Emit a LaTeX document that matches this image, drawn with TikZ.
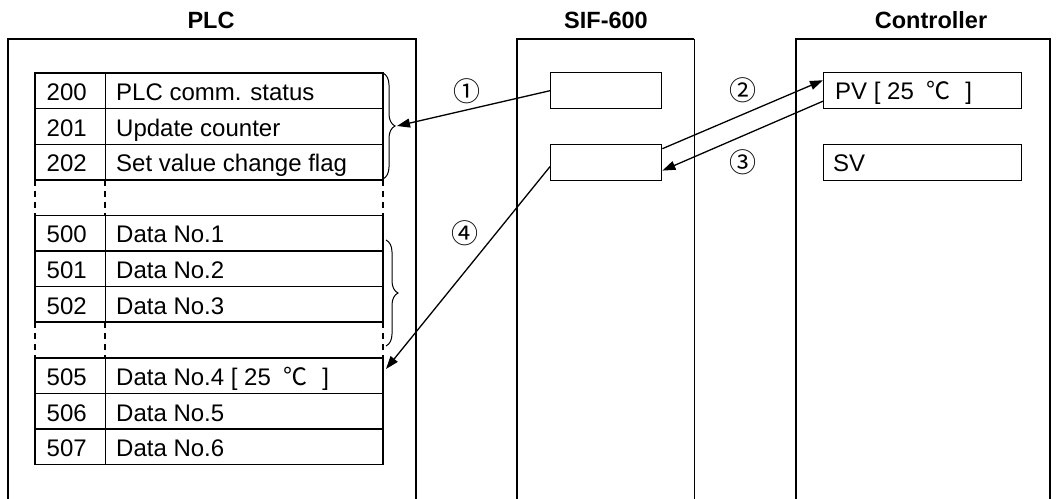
\documentclass[tikz,border=0pt]{standalone}
\usepackage{fontspec}
\setmainfont{Liberation Sans}
\newfontfamily\titlefont{Liberation Sans}
\newfontfamily\cjk{Noto Sans CJK JP}
\usetikzlibrary{arrows.meta,decorations.pathreplacing}
\newcommand\degC{\hspace{6pt}{\cjk ℃}\hspace{8pt}}
\tikzset{
  title/.style={font=\titlefont\bfseries\fontsize{23.5}{25}\selectfont, anchor=base, inner sep=0pt},
  txt/.style={font=\fontsize{24}{26}\selectfont, anchor=base west, inner sep=0pt},
  circ/.style={font=\cjk\fontsize{27}{28}\selectfont, inner sep=0pt},
  frame/.style={line width=1.6pt},
  cell/.style={line width=1.6pt},
  inner/.style={line width=1pt},
  gap/.style={line width=1.4pt, dash pattern=on 6pt off 5pt},
  regbox/.style={draw, line width=1.4pt, minimum width=111pt, minimum height=36pt, anchor=north west, inner sep=0pt},
  ctlbox/.style={draw, line width=1.4pt, minimum width=198pt, minimum height=36pt, anchor=north west, inner sep=0pt},
  arr/.style={line width=1.3pt, -{Triangle[length=13pt,width=9pt]}},
  brc/.style={line width=1pt, decorate, decoration={brace, amplitude=12pt}},
}
\begin{document}
\begin{tikzpicture}[x=1pt,y=-1pt]
\useasboundingbox (0,0) rectangle (1056,498);
% titles
\node[title] (tplc) at (211,28) {PLC};
\node[title] (tsif) at (606,28) {SIF-600};
\node[title] (tctl) at (931,28) {Controller};
% outer frames
\draw[frame] (8,505) -- (8,39) -- (416,39) -- (416,505);
\draw[frame] (517,505) -- (517,39) -- (694,39);
\draw[line width=1pt] (694,39) -- (694,505);
\draw[frame] (796,505) -- (796,39) -- (1050,39) -- (1050,505);
% table groups
\foreach \t in {73,215.4,357.8}{
  \draw[cell] (35,\t) rectangle (383,\t+106.8);
  \draw[inner] (105,\t) -- (105,\t+106.8);
  \draw[line width=1.3pt] (35,\t+35.6) -- (383,\t+35.6);
  \draw[line width=1.3pt] (35,\t+71.2) -- (383,\t+71.2);
}
% gap rows
\foreach \t in {179.8,322.2}{
  \draw[gap] (35,\t) -- (35,\t+35.6);
  \draw[gap] (105,\t) -- (105,\t+35.6);
  \draw[gap] (383,\t) -- (383,\t+35.6);
}
% table texts
\node[txt] (n200) at (46.5,100.5) {200};
\node[txt] (l200) at (116,100.5) {PLC comm. status};
\node[txt] (n201) at (46.5,136.1) {201};
\node[txt] (l201) at (116,136.1) {Update counter};
\node[txt] (n202) at (46.5,171.7) {202};
\node[txt] (l202) at (116,171.7) {Set value change flag};
\node[txt] (n500) at (46.5,242.9) {500};
\node[txt] (l500) at (116,242.9) {Data No.1};
\node[txt] (n501) at (46.5,278.5) {501};
\node[txt] (l501) at (116,278.5) {Data No.2};
\node[txt] (n502) at (46.5,314.1) {502};
\node[txt] (l502) at (116,314.1) {Data No.3};
\node[txt] (n505) at (46.5,385.5) {505};
\node[txt] (l505) at (116,385.5) {Data No.4 [ 25 \degC{} ]};
\node[txt] (n506) at (46.5,421.1) {506};
\node[txt] (l506) at (116,421.1) {Data No.5};
\node[txt] (n507) at (46.5,456.7) {507};
\node[txt] (l507) at (116,456.7) {Data No.6};
% braces
\draw[brc] (383,73) -- (383,179);
\draw[brc] (386,240) -- (386,346);
% SIF boxes
\node[regbox] (s1) at (550,72) {};
\node[regbox] (s2) at (550,144) {};
% controller boxes
\node[ctlbox] (pv) at (823,72) {};
\node[ctlbox] (sv) at (823,144) {};
\node[txt] (pvt) at (835,99.5) {PV [ 25 \degC{} ]};
\node[txt] (svt) at (833,171.5) {SV};
% circled numbers
\node[circ] (c1) at (467,91) {①};
\node[circ] (c2) at (743,90) {②};
\node[circ] (c3) at (743,162) {③};
\node[circ] (c4) at (465,233) {④};
% connectors
\coordinate (b1) at (397,126);
\coordinate (d505) at (386,369);
\draw[arr] (s1.west) -- (b1);
\draw[arr] (s2.14) -- (pv.174);
\draw[arr] (pv.186) -- (s2.-8);
\draw[arr] (s2.184) -- (d505);
\end{tikzpicture}
\end{document}
